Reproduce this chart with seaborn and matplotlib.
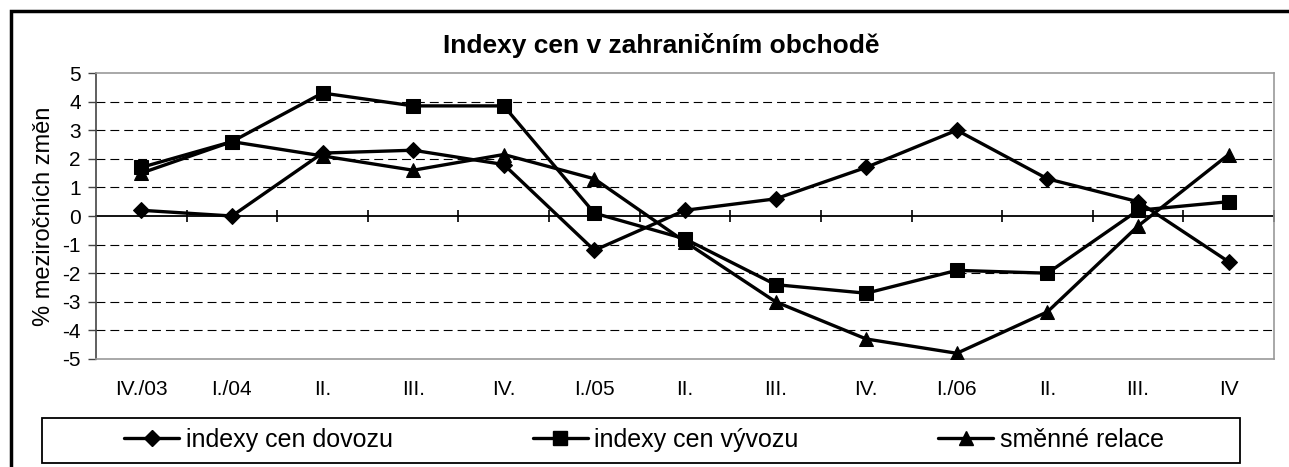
import numpy as np
import pandas as pd
import matplotlib
matplotlib.use("Agg")
import matplotlib.pyplot as plt
import seaborn as sns
from matplotlib.patches import Rectangle

categories = ["IV./03", "I./04", "II.", "III.", "IV.", "I./05", "II.", "III.", "IV.", "I./06", "II.", "III.", "IV"]
dovoz = [0.2, 0.0, 2.2, 2.3, 1.8, -1.2, 0.2, 0.6, 1.7, 3.0, 1.3, 0.5, -1.6]
vyvoz = [1.7, 2.6, 4.3, 3.85, 3.85, 0.1, -0.8, -2.4, -2.7, -1.9, -2.0, 0.2, 0.5]
smenne = [1.5, 2.6, 2.1, 1.6, 2.15, 1.3, -0.9, -3.0, -4.3, -4.8, -3.35, -0.35, 2.15]
series_names = ["indexy cen dovozu", "indexy cen vývozu", "směnné relace"]
title = "Indexy cen v zahraničním obchodě"
ylabel = "% meziročních změn"

sns.set_theme(style="white")
plt.rcParams["font.family"] = ["Liberation Sans", "DejaVu Sans"]
plt.rcParams["text.color"] = "black"
plt.rcParams["axes.labelcolor"] = "black"
plt.rcParams["xtick.color"] = "black"
plt.rcParams["ytick.color"] = "black"

rows = []
for name, vals in zip(series_names, [dovoz, vyvoz, smenne]):
    for i, v in enumerate(vals):
        rows.append({"x": i, "value": v, "series": name})
df = pd.DataFrame(rows)

W, H = 1289, 467
fig = plt.figure(figsize=(W / 100, H / 100), dpi=100)
ax = fig.add_axes([96 / W, 1 - 359 / H, (1274 - 96) / W, (359 - 73) / H])

# dashed grid
for y in [-4, -3, -2, -1, 1, 2, 3, 4]:
    ax.axhline(y, color="black", lw=0.8, ls=(0, (8, 4.5)), zorder=1)

markers = {"indexy cen dovozu": "D", "indexy cen vývozu": "s", "směnné relace": "^"}
msize = {"D": 8.5, "s": 10, "^": 10}
sns.lineplot(data=df, x="x", y="value", hue="series", style="series",
             markers=markers, dashes=False, palette=["black"] * 3,
             linewidth=2.4, markersize=10, markeredgecolor="black",
             ax=ax, legend=False, zorder=3)
for line in ax.lines:
    m = line.get_marker()
    if m in msize:
        line.set_markersize(msize[m])

ax.set_xlim(-0.5, len(categories) - 0.5)
ax.set_ylim(-5, 5)
ax.set_yticks(range(-5, 6))
ax.set_yticklabels([str(v) for v in range(-5, 6)], fontsize=15, color="black")
ax.set_xticks(range(len(categories)))
ax.set_xticklabels(categories, fontsize=15, color="black")
ax.tick_params(axis="x", length=0, pad=15, labelcolor="black")
ax.tick_params(axis="y", length=6, width=1, color="#444444", direction="out", pad=5,
               left=True, labelcolor="black")
ax.set_xlabel("")
ax.set_ylabel(ylabel, fontsize=17, labelpad=5, color="black")

for s in ["top", "right", "bottom"]:
    ax.spines[s].set_color("#999999")
    ax.spines[s].set_linewidth(1.2)
ax.spines["left"].set_color("#444444")
ax.spines["left"].set_linewidth(1.2)

# zero axis with category tick marks
sec = ax.secondary_xaxis(0, transform=ax.transData)
sec.set_xticks(np.arange(0.5, len(categories) - 0.5 + 1e-9, 1.0))
sec.set_xticklabels([])
sec.tick_params(axis="x", direction="inout", length=9, width=1.2, color="black")
sec.spines["bottom"].set_color("black")
sec.spines["bottom"].set_linewidth(1.3)

fig.text(661 / W, 1 - 45 / H, title, ha="center", va="center",
         fontsize=19, fontweight="bold", color="black")

# legend box and legend
fig.patches.append(Rectangle((42 / W, 1 - 463 / H), (1240 - 42) / W, (463 - 418) / H,
                             transform=fig.transFigure, fill=False,
                             edgecolor="black", linewidth=1.3))
handles = [plt.Line2D([], [], color="black", lw=2.4, marker=markers[n],
                      markersize=msize[markers[n]]) for n in series_names]
leg = fig.legend(handles, series_names, loc="center",
                 bbox_to_anchor=(644 / W, 1 - 440 / H),
                 ncol=3, fontsize=18, frameon=False,
                 handlelength=2.2, handletextpad=0.25, columnspacing=5.6,
                 borderaxespad=0, borderpad=0)
for t in leg.get_texts():
    t.set_color("black")

# outer frame
fig.patches.append(Rectangle((11 / W, -0.1), 1.2, 1 - 11 / H + 0.1,
                             transform=fig.transFigure, fill=False,
                             edgecolor="black", linewidth=2.5))

fig.savefig("out.png", dpi=100)
